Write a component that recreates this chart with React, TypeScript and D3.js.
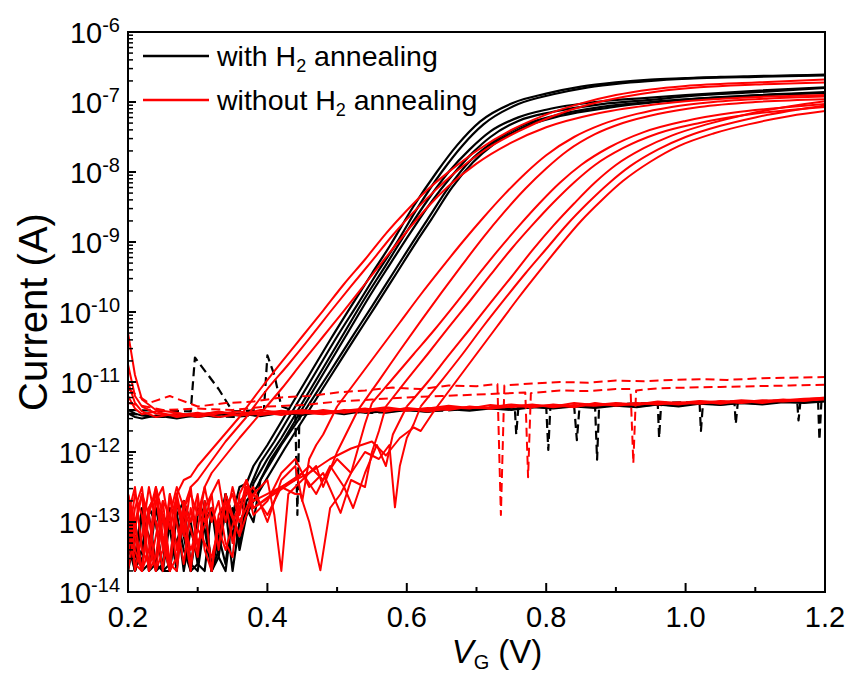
import React from "react";
import * as d3 from "d3";

type P = [number, number];

// ---------- DATA (V_G in volts, current as log10(A)) ----------
const vgNoise = [0.2, 0.21, 0.22, 0.23, 0.24, 0.25, 0.26, 0.27, 0.28, 0.29, 0.3, 0.31, 0.32, 0.33, 0.34, 0.35, 0.36, 0.37, 0.38];

// black: with H2 annealing (drain current)
const blackNoise1 = [-13.2, -13.5, -12.8, -13.7, -13.6, -12.9, -13.1, -13.7, -12.7, -13.0, -13.6, -13.7, -12.8, -13.3, -12.6, -12.9, -12.5];
const blackRise1: P[] = [[0.37, -12.45], [0.38, -12.2], [0.4, -11.9], [0.43, -11.4], [0.46, -10.9], [0.49, -10.4], [0.52, -9.92], [0.55, -9.45], [0.576, -9.05], [0.609, -8.5], [0.643, -8.0], [0.672, -7.62], [0.705, -7.28], [0.753, -7.01], [0.8, -6.88], [0.85, -6.78], [0.9, -6.72], [0.95, -6.68], [1.0, -6.66], [1.05, -6.64], [1.1, -6.63], [1.15, -6.62], [1.2, -6.61]];
const blackNoise2 = [-12.9, -13.7, -13.4, -12.8, -13.0, -13.7, -13.6, -12.7, -13.2, -13.7, -12.9, -12.8, -13.7, -13.1, -12.6, -13.2, -12.8, -12.6];
const blackRise2: P[] = [[0.375, -12.5], [0.39, -12.15], [0.41, -11.85], [0.44, -11.35], [0.47, -10.85], [0.5, -10.35], [0.53, -9.88], [0.56, -9.4], [0.585, -9.02], [0.615, -8.52], [0.65, -8.0], [0.68, -7.62], [0.71, -7.32], [0.76, -7.03], [0.81, -6.89], [0.86, -6.79], [0.91, -6.73], [0.96, -6.69], [1.02, -6.66], [1.1, -6.64], [1.2, -6.62]];
const blackNoise3 = [-13.5, -13.0, -13.7, -13.6, -12.8, -13.3, -13.7, -12.9, -12.7, -13.6, -13.7, -13.0, -12.8, -13.5, -13.7, -12.9, -12.7, -12.9];
const blackRise3: P[] = [[0.38, -12.45], [0.4, -12.1], [0.42, -11.8], [0.45, -11.3], [0.48, -10.8], [0.51, -10.3], [0.54, -9.8], [0.57, -9.33], [0.6, -8.85], [0.63, -8.4], [0.66, -8.0], [0.69, -7.68], [0.72, -7.42], [0.76, -7.22], [0.8, -7.11], [0.87, -7.0], [0.945, -6.94], [1.0, -6.9], [1.1, -6.84], [1.2, -6.79]];
const blackNoise4 = [-13.1, -13.7, -12.9, -13.2, -13.7, -13.6, -12.8, -12.9, -13.7, -13.1, -13.5, -12.7, -13.7, -13.4, -12.8, -13.0, -13.3, -12.7];
const blackRise4: P[] = [[0.385, -12.5], [0.405, -12.1], [0.425, -11.8], [0.455, -11.3], [0.485, -10.8], [0.515, -10.3], [0.545, -9.8], [0.575, -9.33], [0.605, -8.87], [0.635, -8.43], [0.665, -8.05], [0.695, -7.72], [0.72, -7.5], [0.76, -7.27], [0.81, -7.14], [0.88, -7.03], [0.95, -6.97], [1.0, -6.92], [1.1, -6.86], [1.2, -6.8]];
const blackNoise5 = [-13.7, -13.2, -13.6, -12.8, -13.0, -13.7, -13.7, -12.9, -13.4, -13.7, -12.8, -13.1, -13.7, -13.5, -12.8, -13.7, -13.0, -12.8, -13.0];
const blackRise5: P[] = [[0.39, -12.4], [0.42, -11.9], [0.457, -11.36], [0.49, -10.85], [0.52, -10.38], [0.55, -9.92], [0.58, -9.45], [0.61, -8.98], [0.629, -8.69], [0.66, -8.22], [0.69, -7.85], [0.72, -7.6], [0.76, -7.36], [0.81, -7.2], [0.88, -7.07], [0.95, -7.0], [1.05, -6.93], [1.2, -6.86]];
const blackNoise6 = [-13.3, -13.7, -13.4, -12.9, -13.6, -13.7, -13.0, -13.3, -12.9, -13.7, -13.6, -12.8, -13.7, -13.2, -13.6, -12.8, -13.4, -12.9, -12.7];
const blackRise6: P[] = [[0.395, -12.45], [0.425, -11.95], [0.46, -11.4], [0.495, -10.85], [0.525, -10.38], [0.555, -9.92], [0.585, -9.45], [0.615, -8.98], [0.635, -8.68], [0.665, -8.22], [0.695, -7.86], [0.725, -7.6], [0.765, -7.37], [0.82, -7.2], [0.89, -7.08], [0.96, -7.0], [1.06, -6.93], [1.2, -6.87]];

// red: without H2 annealing (drain current)
const redNoiseL1 = [-12.9, -12.5, -13.4, -13.6, -12.7, -12.5, -13.1, -12.6, -12.4, -12.35];
const redRiseL1: P[] = [[0.3, -12.2], [0.33, -11.85], [0.36, -11.5], [0.39, -11.1], [0.42, -10.72], [0.45, -10.35], [0.48, -9.98], [0.51, -9.6], [0.54, -9.25], [0.57, -8.88], [0.6, -8.55], [0.63, -8.25], [0.66, -8.0], [0.7, -7.7], [0.75, -7.4], [0.8, -7.18], [0.85, -7.02], [0.9, -6.9], [0.95, -6.82], [1.0, -6.77], [1.1, -6.72], [1.2, -6.68]];
const redNoiseL2 = [-12.6, -13.2, -13.7, -12.8, -12.6, -13.4, -12.9, -12.5, -12.8, -12.5];
const redRiseL2: P[] = [[0.3, -12.4], [0.34, -11.85], [0.37, -11.5], [0.4, -11.1], [0.43, -10.75], [0.46, -10.38], [0.49, -10.0], [0.52, -9.63], [0.55, -9.27], [0.58, -8.9], [0.61, -8.57], [0.64, -8.27], [0.67, -8.0], [0.71, -7.7], [0.76, -7.42], [0.81, -7.2], [0.86, -7.04], [0.91, -6.93], [0.96, -6.85], [1.02, -6.79], [1.1, -6.75], [1.2, -6.72]];
const redNoiseL3 = [-13.4, -13.0, -12.6, -13.7, -13.5, -12.7, -12.9, -13.6, -12.8, -12.6, -12.9, -12.5];
const redRiseL3: P[] = [[0.32, -12.3], [0.36, -11.8], [0.39, -11.45], [0.42, -11.1], [0.45, -10.72], [0.48, -10.35], [0.51, -9.98], [0.54, -9.6], [0.57, -9.22], [0.6, -8.85], [0.63, -8.5], [0.66, -8.2], [0.7, -7.88], [0.75, -7.58], [0.8, -7.36], [0.87, -7.17], [0.945, -7.05], [1.0, -6.99], [1.1, -6.93], [1.2, -6.9]];
const redNoiseMa1 = [-13.7, -13.1, -12.6, -12.9, -13.7, -13.4, -12.6, -13.0, -13.6, -12.8];
const redRiseMa1: P[] = [[0.3, -13.3], [0.32, -12.8], [0.34, -13.4], [0.36, -12.7], [0.38, -12.5], [0.4, -13.0], [0.42, -12.4], [0.44, -12.2], [0.45, -12.7], [0.46, -12.1], [0.47, -11.9], [0.48, -11.75], [0.49, -11.55], [0.5, -11.35], [0.53, -10.95], [0.56, -10.55], [0.59, -10.15], [0.62, -9.75], [0.65, -9.37], [0.68, -9.0], [0.71, -8.65], [0.74, -8.32], [0.77, -8.02], [0.8, -7.76], [0.84, -7.5], [0.88, -7.32], [0.93, -7.17], [0.98, -7.07], [1.04, -7.0], [1.12, -6.95], [1.2, -6.92]];
const redNoiseMa2 = [-12.7, -13.6, -13.7, -12.8, -12.6, -13.3, -13.7, -12.7, -13.0, -13.4];
const redRiseMa2: P[] = [[0.3, -13.1], [0.32, -13.5], [0.34, -12.7], [0.36, -13.2], [0.38, -12.6], [0.4, -12.4], [0.41, -12.9], [0.42, -13.7], [0.43, -12.6], [0.45, -12.4], [0.47, -12.2], [0.48, -12.5], [0.5, -12.0], [0.51, -11.8], [0.52, -11.6], [0.53, -11.4], [0.56, -10.98], [0.59, -10.55], [0.62, -10.13], [0.65, -9.72], [0.68, -9.32], [0.71, -8.93], [0.74, -8.57], [0.77, -8.24], [0.8, -7.95], [0.83, -7.7], [0.87, -7.46], [0.91, -7.3], [0.96, -7.17], [1.02, -7.07], [1.1, -7.0], [1.2, -6.96]];
const redNoiseMb1 = [-13.3, -12.6, -12.9, -13.7, -13.2, -12.7, -13.6, -13.7, -12.8, -13.1, -13.5, -12.7, -13.7, -13.0, -12.8, -12.6];
const redRiseMb1: P[] = [[0.36, -13.0], [0.38, -12.6], [0.4, -12.9], [0.42, -12.5], [0.44, -12.6], [0.447, -12.6], [0.46, -13.0], [0.476, -13.69], [0.49, -12.8], [0.505, -12.6], [0.52, -12.3], [0.53, -11.95], [0.54, -11.6], [0.55, -11.3], [0.58, -10.95], [0.61, -10.6], [0.64, -10.25], [0.67, -9.88], [0.7, -9.5], [0.73, -9.13], [0.76, -8.78], [0.79, -8.45], [0.82, -8.15], [0.85, -7.9], [0.89, -7.65], [0.94, -7.43], [1.0, -7.27], [1.07, -7.15], [1.14, -7.08], [1.2, -7.03]];
const redNoiseMb2 = [-12.6, -13.4, -13.7, -12.9, -12.5, -13.2, -13.7, -13.5, -12.7, -13.0, -12.6, -13.4, -13.7, -12.9, -12.7, -13.3, -12.8, -12.5, -12.9];
const redRiseMb2: P[] = [[0.4, -12.7], [0.42, -12.3], [0.44, -12.1], [0.46, -12.5], [0.48, -12.3], [0.505, -12.87], [0.52, -12.4], [0.54, -12.5], [0.55, -12.0], [0.56, -11.7], [0.57, -11.35], [0.6, -10.97], [0.63, -10.6], [0.66, -10.22], [0.69, -9.85], [0.72, -9.47], [0.75, -9.1], [0.78, -8.76], [0.81, -8.44], [0.84, -8.15], [0.87, -7.9], [0.91, -7.66], [0.96, -7.45], [1.02, -7.3], [1.09, -7.18], [1.2, -7.07]];
const redNoiseR1 = [-13.5, -12.8, -12.5, -13.3, -13.7, -12.9, -13.6, -12.6, -13.1, -13.7, -12.7, -13.0, -12.6, -13.4, -12.6, -12.9, -13.2, -12.5, -12.8];
const redRiseR1: P[] = [[0.42, -12.5], [0.45, -12.3], [0.47, -12.6], [0.49, -12.2], [0.51, -12.5], [0.523, -12.8], [0.54, -12.3], [0.557, -11.9], [0.57, -12.2], [0.58, -11.75], [0.59, -11.55], [0.6, -11.35], [0.63, -11.0], [0.66, -10.62], [0.69, -10.25], [0.72, -9.87], [0.75, -9.5], [0.78, -9.12], [0.81, -8.77], [0.84, -8.45], [0.87, -8.15], [0.9, -7.9], [0.94, -7.66], [0.98, -7.48], [1.03, -7.32], [1.09, -7.17], [1.15, -7.06], [1.2, -6.99]];
const redNoiseR2 = [-12.9, -13.7, -13.2, -12.5, -13.0, -13.7, -12.6, -13.4, -12.8, -13.6, -13.1, -12.5, -13.0, -12.7, -13.3, -13.5, -12.6, -12.4, -12.8];
const redRiseR2: P[] = [[0.44, -12.4], [0.46, -12.2], [0.48, -12.4], [0.5, -12.1], [0.52, -12.3], [0.54, -12.0], [0.56, -12.1], [0.575, -11.9], [0.583, -12.79], [0.59, -12.2], [0.6, -11.8], [0.61, -11.6], [0.62, -11.35], [0.65, -10.98], [0.68, -10.6], [0.71, -10.2], [0.74, -9.82], [0.77, -9.45], [0.8, -9.1], [0.83, -8.75], [0.86, -8.44], [0.89, -8.16], [0.92, -7.92], [0.96, -7.68], [1.0, -7.5], [1.05, -7.34], [1.1, -7.22], [1.2, -7.05]];
const redNoiseR3 = [-12.6, -13.0, -13.7, -13.4, -12.5, -12.9, -13.7, -12.7, -13.2, -12.5, -13.4, -12.8, -12.6, -12.4, -13.0, -12.5, -12.9, -12.4, -12.7];
const redRiseR3: P[] = [[0.46, -12.3], [0.49, -12.1], [0.52, -11.95], [0.55, -11.85], [0.57, -12.05], [0.59, -11.8], [0.61, -11.65], [0.62, -11.7], [0.63, -11.55], [0.64, -11.4], [0.67, -11.0], [0.7, -10.6], [0.73, -10.2], [0.76, -9.8], [0.79, -9.42], [0.82, -9.05], [0.85, -8.7], [0.88, -8.4], [0.91, -8.13], [0.95, -7.85], [0.99, -7.63], [1.04, -7.45], [1.09, -7.32], [1.15, -7.2], [1.2, -7.13]];

// off-state / leakage lines (solid)
const vgFlat = [0.2, 0.21, 0.22, 0.24, 0.27, 0.3, 0.33, 0.36, 0.39, 0.42, 0.45, 0.48, 0.51, 0.54, 0.57, 0.6, 0.63, 0.66, 0.69, 0.72, 0.75, 0.78, 0.81, 0.84, 0.87, 0.9, 0.93, 0.96, 0.99, 1.02, 1.05, 1.08, 1.11, 1.14, 1.17, 1.2];
const flatRed1 = [-10.75, -11.2, -11.35, -11.45, -11.48, -11.44, -11.5, -11.46, -11.43, -11.47, -11.42, -11.45, -11.4, -11.43, -11.38, -11.41, -11.37, -11.4, -11.35, -11.38, -11.34, -11.36, -11.32, -11.35, -11.31, -11.33, -11.3, -11.32, -11.29, -11.31, -11.28, -11.3, -11.27, -11.28, -11.26, -11.25];
const flatRed2 = [-10.3, -10.9, -11.25, -11.4, -11.44, -11.5, -11.45, -11.42, -11.47, -11.44, -11.4, -11.43, -11.41, -11.38, -11.42, -11.37, -11.4, -11.36, -11.38, -11.33, -11.36, -11.33, -11.35, -11.3, -11.33, -11.3, -11.32, -11.28, -11.3, -11.27, -11.29, -11.26, -11.28, -11.25, -11.27, -11.24];
const flatRed3 = [-11.0, -11.3, -11.42, -11.5, -11.45, -11.48, -11.42, -11.47, -11.4, -11.44, -11.45, -11.4, -11.44, -11.4, -11.36, -11.4, -11.38, -11.34, -11.37, -11.36, -11.32, -11.35, -11.33, -11.36, -11.3, -11.34, -11.31, -11.3, -11.32, -11.28, -11.31, -11.27, -11.3, -11.26, -11.24, -11.23];
const flatRed4 = [-11.2, -11.38, -11.46, -11.42, -11.5, -11.46, -11.43, -11.48, -11.45, -11.41, -11.44, -11.46, -11.42, -11.39, -11.41, -11.38, -11.42, -11.38, -11.36, -11.38, -11.35, -11.32, -11.36, -11.33, -11.34, -11.31, -11.33, -11.29, -11.31, -11.3, -11.27, -11.29, -11.26, -11.27, -11.25, -11.22];
const flatBlack1 = [-11.4, -11.45, -11.48, -11.5, -11.47, -11.5, -11.46, -11.48, -11.44, -11.46, -11.43, -11.45, -11.41, -11.44, -11.42, -11.4, -11.42, -11.38, -11.4, -11.37, -11.39, -11.35, -11.37, -11.34, -11.36, -11.33, -11.35, -11.32, -11.34, -11.3, -11.32, -11.3, -11.31, -11.28, -11.29, -11.27];
const flatBlack2 = [-11.45, -11.5, -11.52, -11.48, -11.52, -11.47, -11.5, -11.45, -11.49, -11.44, -11.47, -11.42, -11.46, -11.41, -11.44, -11.4, -11.43, -11.39, -11.41, -11.38, -11.4, -11.36, -11.38, -11.35, -11.37, -11.34, -11.36, -11.32, -11.35, -11.31, -11.33, -11.3, -11.32, -11.29, -11.3, -11.28];

// dashed leakage lines
const dashRed1: P[] = [[0.2, -11.1], [0.23, -11.3], [0.26, -11.2], [0.3, -11.35], [0.34, -11.3], [0.38, -11.28], [0.42, -11.22], [0.46, -11.2], [0.5, -11.15], [0.54, -11.12], [0.58, -11.08], [0.62, -11.1], [0.66, -11.05], [0.7, -11.06], [0.73, -11.03], [0.735, -12.9], [0.74, -11.05], [0.78, -11.02], [0.82, -11.0], [0.86, -11.01], [0.9, -10.98], [0.94, -10.99], [0.98, -10.97], [1.02, -10.96], [1.06, -10.97], [1.1, -10.95], [1.14, -10.94], [1.2, -10.93]];
const dashRed2: P[] = [[0.2, -11.3], [0.25, -11.4], [0.3, -11.38], [0.35, -11.4], [0.4, -11.35], [0.45, -11.33], [0.5, -11.28], [0.55, -11.25], [0.6, -11.22], [0.65, -11.2], [0.7, -11.18], [0.77, -11.15], [0.774, -12.36], [0.778, -11.16], [0.82, -11.12], [0.86, -11.13], [0.9, -11.1], [0.921, -11.1], [0.925, -12.16], [0.929, -11.12], [0.96, -11.09], [1.0, -11.08], [1.05, -11.07], [1.1, -11.06], [1.15, -11.05], [1.2, -11.04]];
const dashBlack1: P[] = [[0.2, -11.45], [0.25, -11.5], [0.3, -11.48], [0.35, -11.5], [0.4, -11.46], [0.44, -11.45], [0.443, -12.9], [0.446, -11.45], [0.5, -11.43], [0.55, -11.42], [0.6, -11.4], [0.65, -11.38], [0.7, -11.37], [0.75, -11.36], [0.8, -11.35], [0.803, -11.97], [0.806, -11.35], [0.84, -11.33], [0.844, -11.83], [0.848, -11.33], [0.87, -11.32], [0.873, -12.11], [0.876, -11.32], [0.92, -11.31], [0.96, -11.3], [0.962, -11.8], [0.965, -11.3], [1.0, -11.29], [1.02, -11.29], [1.022, -11.7], [1.025, -11.29], [1.07, -11.28], [1.072, -11.6], [1.075, -11.28], [1.12, -11.27], [1.16, -11.26], [1.162, -11.55], [1.165, -11.26], [1.19, -11.25], [1.192, -11.83], [1.195, -11.25], [1.2, -11.25]];
const dashBlack2: P[] = [[0.2, -11.4], [0.29, -11.42], [0.296, -10.65], [0.33, -11.1], [0.35, -11.42], [0.395, -11.4], [0.4, -10.62], [0.41, -10.9], [0.42, -11.35], [0.45, -11.45], [0.5, -11.42], [0.55, -11.44], [0.6, -11.4], [0.65, -11.41], [0.7, -11.38], [0.755, -11.37], [0.757, -11.75], [0.76, -11.37], [0.8, -11.35], [0.85, -11.34], [0.9, -11.33], [0.95, -11.31], [1.0, -11.3], [1.05, -11.29], [1.1, -11.28], [1.15, -11.27], [1.2, -11.26]];

const xTicksMajor = [0.2, 0.4, 0.6, 0.8, 1.0, 1.2];
const xTicksMinor = [0.3, 0.5, 0.7, 0.9, 1.1];
const xTickLabels = ["0.2", "0.4", "0.6", "0.8", "1.0", "1.2"];
const yDecades = [-14, -13, -12, -11, -10, -9, -8, -7, -6];
const legendLabels = ["with H", "without H"];

// ---------- helpers ----------
const withNoise = (noise: number[], rest: P[]): P[] =>
  (noise.map((e, i) => [vgNoise[i], e] as P)).concat(rest);
const flat = (vals: number[]): P[] => vals.map((e, i) => [vgFlat[i], e] as P);

const blackCurves: P[][] = [
  withNoise(blackNoise1, blackRise1),
  withNoise(blackNoise2, blackRise2),
  withNoise(blackNoise3, blackRise3),
  withNoise(blackNoise4, blackRise4),
  withNoise(blackNoise5, blackRise5),
  withNoise(blackNoise6, blackRise6),
];
const redCurves: P[][] = [
  withNoise(redNoiseL1, redRiseL1),
  withNoise(redNoiseL2, redRiseL2),
  withNoise(redNoiseL3, redRiseL3),
  withNoise(redNoiseMa1, redRiseMa1),
  withNoise(redNoiseMa2, redRiseMa2),
  withNoise(redNoiseMb1, redRiseMb1),
  withNoise(redNoiseMb2, redRiseMb2),
  withNoise(redNoiseR1, redRiseR1),
  withNoise(redNoiseR2, redRiseR2),
  withNoise(redNoiseR3, redRiseR3),
];

const W = 852, H = 675;
const L = 128, R = 825, T = 32, B = 592;
const FONT = "'Liberation Sans', Arial, Helvetica, sans-serif";

export default function App() {
  const x = d3.scaleLinear().domain([0.2, 1.2]).range([L, R]);
  const y = d3.scaleLog().domain([1e-14, 1e-6]).range([B, T]);
  const line = d3
    .line<P>()
    .x((d) => x(d[0]))
    .y((d) => y(Math.pow(10, d[1])))
    .curve(d3.curveLinear);
  const smooth = d3
    .line<P>()
    .x((d) => x(d[0]))
    .y((d) => y(Math.pow(10, d[1])))
    .curve(d3.curveMonotoneX);

  // noisy low part drawn straight, the rising/saturating part smooth
  const curvePath = (c: P[]) => {
    let k = c.findIndex((p) => p[1] >= -11.5);
    if (k < 0) k = c.length - 1;
    return (line(c.slice(0, k + 1)) || "") + (smooth(c.slice(k)) || "");
  };

  const minorY: number[] = [];
  for (const dd of yDecades.slice(0, -1)) for (let k = 2; k <= 9; k++) minorY.push(k * Math.pow(10, dd));

  return (
    <svg width={W} height={H} style={{ position: "absolute", left: 0, top: 0, background: "#fff" }} fontFamily={FONT}>
      <defs>
        <clipPath id="plot">
          <rect x={L} y={T} width={R - L} height={B - T} />
        </clipPath>
      </defs>
      <g clipPath="url(#plot)" fill="none" strokeLinejoin="round">
        {[flatBlack1, flatBlack2].map((v, i) => (
          <path key={"fb" + i} d={line(flat(v)) || ""} stroke="#000" strokeWidth={2} />
        ))}
        {blackCurves.map((c, i) => (
          <path key={"b" + i} d={curvePath(c)} stroke="#000" strokeWidth={2.2} />
        ))}
        {[dashBlack1, dashBlack2].map((c, i) => (
          <path key={"db" + i} d={line(c) || ""} stroke="#000" strokeWidth={2.2} strokeDasharray="9,5" />
        ))}
        {[flatRed1, flatRed2, flatRed3, flatRed4].map((v, i) => (
          <path key={"fr" + i} d={line(flat(v)) || ""} stroke="#ff0000" strokeWidth={2} />
        ))}
        {redCurves.map((c, i) => (
          <path key={"r" + i} d={curvePath(c)} stroke="#ff0000" strokeWidth={2} />
        ))}
        {[dashRed1, dashRed2].map((c, i) => (
          <path key={"dr" + i} d={line(c) || ""} stroke="#ff0000" strokeWidth={2} strokeDasharray="9,5" />
        ))}
      </g>

      {/* frame */}
      <rect x={L} y={T} width={R - L} height={B - T} fill="none" stroke="#000" strokeWidth={2} />

      {/* x ticks */}
      {xTicksMajor.map((v) => (
        <line key={"xM" + v} x1={x(v)} x2={x(v)} y1={B} y2={B - 9} stroke="#000" strokeWidth={2} />
      ))}
      {xTicksMinor.map((v) => (
        <line key={"xm" + v} x1={x(v)} x2={x(v)} y1={B} y2={B - 5} stroke="#000" strokeWidth={2} />
      ))}
      {xTicksMajor.map((v, i) => (
        <text key={"xl" + v} x={x(v)} y={627} fontSize={29} textAnchor="middle" fill="#000">
          {xTickLabels[i]}
        </text>
      ))}

      {/* y ticks */}
      {yDecades.map((dd) => (
        <line key={"yM" + dd} x1={L} x2={L + 8} y1={y(Math.pow(10, dd))} y2={y(Math.pow(10, dd))} stroke="#000" strokeWidth={2} />
      ))}
      {minorY.map((v, i) => (
        <line key={"ym" + i} x1={L} x2={L + 5} y1={y(v)} y2={y(v)} stroke="#000" strokeWidth={1.5} />
      ))}
      {yDecades.map((dd) => (
        <text key={"yl" + dd} x={120} y={y(Math.pow(10, dd)) + 11} fontSize={29} textAnchor="end" fill="#000">
          10
          <tspan dy={-11} fontSize={20}>{String(dd)}</tspan>
        </text>
      ))}

      {/* axis titles */}
      <text transform={`translate(47,${(T + B) / 2}) rotate(-90)`} fontSize={40} textAnchor="middle" fill="#000">
        Current (A)
      </text>
      <text x={497} y={663} fontSize={33} textAnchor="middle" fill="#000">
        <tspan fontStyle="italic">V</tspan>
        <tspan fontSize={20} dy={6}>G</tspan>
        <tspan dy={-6}> (V)</tspan>
      </text>

      {/* legend */}
      <line x1={143} x2={209} y1={56} y2={56} stroke="#000" strokeWidth={2.5} />
      <line x1={143} x2={209} y1={100} y2={100} stroke="#ff0000" strokeWidth={2.5} />
      {legendLabels.map((lab, i) => (
        <text key={lab} x={217} y={66 + i * 44} fontSize={28.5} fill="#000">
          {lab}
          <tspan fontSize={18} dy={6}>2</tspan>
          <tspan dy={-6}> annealing</tspan>
        </text>
      ))}
    </svg>
  );
}
